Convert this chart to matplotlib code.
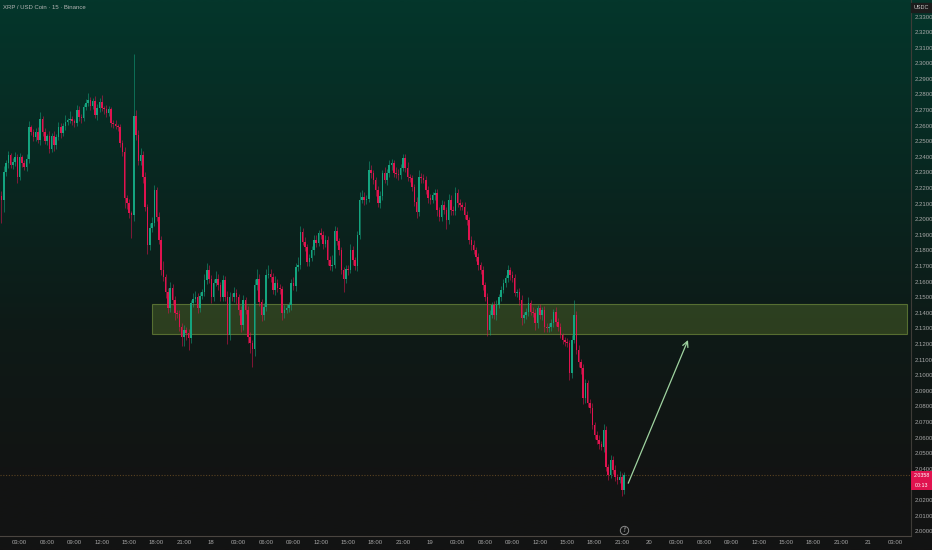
import numpy as np
import matplotlib
matplotlib.use("Agg")
import matplotlib.pyplot as plt
from matplotlib.patches import Rectangle
from matplotlib.colors import LinearSegmentedColormap

plt.rcParams['font.family'] = ['Liberation Sans Narrow', 'Liberation Sans', 'DejaVu Sans']

# ---------------- data (15-min candles, prices x 1e4) ----------------
title = "XRP / USD Coin · 15 · Binance"
first_open = 22150
closes = [
    22124, 22300, 22360, 22410, 22350, 22370, 22400, 22273, 22400, 22360,
    22337, 22384, 22590, 22562, 22530, 22562, 22508, 22641, 22562, 22504,
    22534, 22449, 22534, 22476, 22526, 22594, 22551, 22598, 22626, 22637,
    22643, 22630, 22620, 22701, 22658, 22650, 22723, 22744, 22765, 22729,
    22760, 22669, 22712, 22755, 22712, 22705, 22679, 22705, 22619, 22610,
    22598, 22590, 22491, 22433, 22135, 22103, 22038, 22028, 22662, 22541,
    22376, 22412, 22273, 22081, 21835, 21942, 21975, 22188, 22017, 21867,
    21675, 21632, 21536, 21429, 21557, 21483, 21397, 21390, 21312, 21248,
    21290, 21270, 21240, 21461, 21490, 21500, 21429, 21510, 21536, 21611,
    21675, 21620, 21504, 21590, 21620, 21579, 21504, 21611, 21500, 21258,
    21504, 21500, 21525, 21500, 21418, 21322, 21483, 21420, 21248, 21205,
    21166, 21579, 21620, 21470, 21386, 21440, 21643, 21650, 21630, 21547,
    21590, 21560, 21550, 21397, 21420, 21430, 21450, 21590, 21570, 21696,
    21710, 21921, 21857, 21820, 21728, 21750, 21803, 21867, 21850, 21914,
    21900, 21840, 21870, 21739, 21700, 21710, 21927, 21860, 21800, 21675,
    21615, 21680, 21675, 21800, 21740, 21700, 21899, 22123, 22145, 22123,
    22130, 22316, 22294, 22252, 22188, 22102, 22150, 22294, 22252, 22294,
    22348, 22358, 22294, 22290, 22284, 22330, 22391, 22330, 22273, 22262,
    22209, 22113, 22049, 22273, 22262, 22255, 22188, 22134, 22123, 22155,
    22166, 22059, 22017, 22091, 22059, 21995, 22124, 22059, 22050, 22166,
    22102, 22091, 22080, 22027, 21995, 21867, 21835, 21800, 21760, 21707,
    21675, 21579, 21504, 21290, 21386, 21450, 21386, 21450, 21504, 21547,
    21589, 21621, 21675, 21643, 21621, 21525, 21536, 21483, 21365, 21386,
    21408, 21461, 21408, 21397, 21333, 21429, 21386, 21418, 21312, 21300,
    21312, 21333, 21408, 21343, 21312, 21258, 21226, 21215, 21205, 21012,
    21226, 21386, 21162, 21085, 21045, 20852, 20948, 20820, 20790, 20681,
    20620, 20585, 20560, 20540, 20649, 20414, 20361, 20457, 20393, 20350,
    20329, 20350, 20265, 20358,
]
upper_wick = [
    30, 40, 20, 25, 15, 20, 30, 20, 25, 15,
    20, 35, 40, 15, 20, 25, 30, 45, 20, 25,
    15, 30, 20, 35, 20, 30, 25, 20, 40, 15,
    50, 20, 15, 30, 25, 20, 15, 30, 45, 20,
    15, 30, 25, 20, 40, 15, 25, 20, 15, 20,
    25, 15, 20, 15, 30, 20, 25, 15, 398, 40,
    30, 45, 25, 30, 20, 35, 40, 32, 20, 30,
    25, 60, 20, 25, 40, 30, 25, 20, 30, 25,
    30, 20, 25, 20, 35, 40, 30, 25, 20, 40,
    45, 30, 20, 25, 50, 30, 20, 35, 25, 40,
    30, 25, 40, 30, 20, 25, 30, 20, 25, 30,
    20, 40, 60, 30, 20, 25, 40, 60, 30, 25,
    45, 30, 25, 20, 30, 25, 20, 30, 40, 25,
    50, 35, 25, 30, 20, 30, 25, 30, 35, 20,
    30, 25, 30, 20, 25, 60, 30, 25, 20, 25,
    20, 30, 25, 40, 30, 20, 25, 50, 40, 30,
    25, 60, 30, 25, 20, 25, 30, 25, 40, 30,
    35, 30, 25, 40, 30, 25, 25, 30, 40, 20,
    25, 20, 30, 40, 25, 30, 20, 25, 30, 20,
    30, 25, 20, 30, 25, 20, 35, 30, 25, 40,
    30, 25, 20, 30, 25, 20, 25, 30, 20, 25,
    20, 25, 20, 25, 30, 20, 25, 30, 20, 25,
    30, 25, 35, 20, 25, 30, 20, 25, 30, 20,
    25, 40, 20, 30, 25, 20, 30, 20, 25, 20,
    25, 30, 20, 30, 25, 20, 15, 20, 25, 20,
    30, 95, 25, 30, 20, 25, 30, 20, 25, 30,
    20, 25, 30, 20, 40, 25, 20, 30, 25, 30,
    20, 35, 25, 20,
]
lower_wick = [
    150, 80, 20, 30, 20, 25, 30, 40, 20, 25,
    20, 30, 25, 20, 30, 25, 20, 30, 25, 20,
    30, 25, 20, 40, 25, 20, 30, 20, 25, 20,
    20, 25, 30, 20, 25, 30, 20, 25, 20, 30,
    25, 20, 30, 25, 20, 30, 25, 20, 30, 25,
    20, 25, 30, 25, 60, 40, 30, 150, 40, 30,
    25, 30, 40, 25, 60, 30, 25, 20, 30, 25,
    30, 25, 40, 30, 25, 30, 40, 25, 30, 60,
    60, 45, 80, 30, 25, 20, 30, 25, 20, 30,
    25, 30, 40, 25, 20, 30, 25, 30, 25, 60,
    30, 25, 30, 40, 30, 45, 30, 25, 40, 60,
    110, 40, 30, 25, 40, 30, 25, 20, 30, 25,
    30, 25, 30, 40, 30, 20, 25, 30, 25, 30,
    25, 30, 20, 25, 30, 25, 20, 30, 25, 20,
    25, 30, 20, 30, 25, 30, 20, 25, 30, 25,
    80, 25, 30, 20, 30, 25, 30, 25, 20, 30,
    25, 20, 30, 25, 40, 25, 30, 25, 20, 30,
    25, 30, 20, 25, 30, 25, 20, 25, 30, 20,
    25, 30, 40, 25, 30, 20, 25, 30, 25, 20,
    30, 40, 25, 30, 25, 60, 25, 30, 25, 20,
    25, 30, 20, 25, 30, 25, 30, 20, 25, 30,
    25, 30, 25, 40, 30, 20, 25, 30, 20, 25,
    20, 25, 20, 30, 25, 20, 25, 30, 45, 30,
    25, 30, 20, 25, 40, 30, 25, 30, 35, 25,
    20, 30, 25, 30, 25, 20, 25, 30, 25, 40,
    30, 20, 25, 30, 40, 35, 30, 25, 30, 25,
    30, 25, 30, 20, 30, 25, 30, 20, 25, 30,
    25, 20, 40, 25,
]
start_hour = 1.0          # first candle: day 17, 01:00
candle_hours = 0.25       # 15 minutes

x_tick_hours = [3, 6, 9, 12, 15, 18, 21, 24, 27, 30, 33, 36, 39, 42, 45, 48,
                51, 54, 57, 60, 63, 66, 69, 72, 75, 78, 81, 84, 87, 90, 93, 96, 99]
x_tick_labels = ['03:00', '06:00', '09:00', '12:00', '15:00', '18:00', '21:00', '18',
                 '03:00', '06:00', '09:00', '12:00', '15:00', '18:00', '21:00', '19',
                 '03:00', '06:00', '09:00', '12:00', '15:00', '18:00', '21:00', '20',
                 '03:00', '06:00', '09:00', '12:00', '15:00', '18:00', '21:00', '21',
                 '03:00']
# 2.0300 is hidden behind the last-price tag in the reference
y_tick_labels = ['2.0000', '2.0100', '2.0200', '2.0400', '2.0500', '2.0600',
                 '2.0700', '2.0800', '2.0900', '2.1000', '2.1100', '2.1200', '2.1300',
                 '2.1400', '2.1500', '2.1600', '2.1700', '2.1800', '2.1900', '2.2000',
                 '2.2100', '2.2200', '2.2300', '2.2400', '2.2500', '2.2600', '2.2700',
                 '2.2800', '2.2900', '2.3000', '2.3100', '2.3200', '2.3300']

zone_start_hour, zone_end_hour = 17.5, 100.24
zone_low, zone_high = 2.1265, 2.1457
arrow_from = (69.69, 2.0308)
arrow_to = (76.24, 2.1226)
countdown = "00:13"

# ---------------- derived ----------------
c = np.array(closes) / 1e4
o = np.array([first_open] + closes[:-1]) / 1e4
hi = np.maximum(o, c) + np.array(upper_wick) / 1e4
lo = np.minimum(o, c) - np.array(lower_wick) / 1e4
n = len(c)
x = start_hour + candle_hours * np.arange(n)

UP, DOWN = '#14a47f', '#e0134f'
cols = [UP if cc >= oo else DOWN for oo, cc in zip(o, c)]

W, H = 932, 550
fig = plt.figure(figsize=(W / 100, H / 100), dpi=100)

# background gradient
stops = [(0.0, (4/255, 54/255, 43/255)), (0.3, (8/255, 40/255, 33/255)),
         (0.6, (14/255, 26/255, 23/255)), (0.85, (18/255, 20/255, 19/255)),
         (1.0, (19/255, 19/255, 19/255))]
cmap = LinearSegmentedColormap.from_list('bg', stops)
bg = fig.add_axes([0, 0, 1, 1], zorder=0)
bg.imshow(np.linspace(0, 1, 512).reshape(-1, 1), aspect='auto', cmap=cmap,
          extent=[0, 1, 0, 1], interpolation='bilinear')
bg.axis('off')

ax = fig.add_axes([0, 14 / H, 911 / W, 536 / H], zorder=1)
ax.patch.set_alpha(0)
ax.set_xlim(0.84, 100.68)
ax.set_ylim(1.99696, 2.34058)

# zone
ax.add_patch(Rectangle((zone_start_hour, zone_low), zone_end_hour - zone_start_hour,
                       zone_high - zone_low, facecolor=(0.55, 0.68, 0.22, 0.25),
                       edgecolor=(0.62, 0.75, 0.30, 0.45), lw=0.8, zorder=1))

# candles
ax.vlines(x, lo, hi, colors=cols, lw=0.7, alpha=0.55, zorder=2)
ax.bar(x, np.maximum(np.abs(c - o), 0.0004), bottom=np.minimum(o, c), width=0.17,
       color=cols, linewidth=0, zorder=3)

# price line
last = c[-1]
ax.axhline(last, color='#5a4322', lw=0.8, ls=(0, (1, 1.5)), zorder=1.5)

# arrow
ax.annotate('', xy=arrow_to, xytext=arrow_from,
            arrowprops=dict(arrowstyle='->', color='#9fd3a0', lw=0.9,
                            mutation_scale=10, shrinkA=0, shrinkB=0), zorder=4)

# f marker
tr = ax.get_xaxis_transform()
ax.plot([x[-1]], [0.0112], marker='o', ms=6, mfc='none', mec='#8a8a8a', mew=0.7,
        transform=tr, clip_on=False, zorder=5)
ax.text(x[-1], 0.0112, 'ƒ', transform=tr, ha='center', va='center', fontsize=4,
        color='#a0a0a0', family=['DejaVu Sans'])

# spines / ticks
for s in ['top', 'left']:
    ax.spines[s].set_visible(False)
ax.spines['right'].set_color('#3e3b37')
ax.spines['bottom'].set_color('#4a4540')
ax.spines['right'].set_linewidth(0.8)
ax.spines['bottom'].set_linewidth(0.8)
ax.set_xticks(x_tick_hours)
ax.set_xticklabels(x_tick_labels)
ax.tick_params(axis='x', length=0, pad=3.2, labelsize=4.3, colors='#a8a8a8')
ax.yaxis.tick_right()
ax.set_yticks([float(t) for t in y_tick_labels])
ax.set_yticklabels(y_tick_labels)
ax.tick_params(axis='y', length=0, pad=3, labelsize=4.3, colors='#a8a8a8')

# title
fig.text(3 / W, 1 - 7.3 / H, title, fontsize=4.3, color='#b5b5b5', va='center', ha='left')

# USDC box
fig.text(921 / W, 1 - 7.5 / H, 'USDC', fontsize=4, color='#c8c8c8', va='center', ha='center',
         bbox=dict(boxstyle='square,pad=0.35', fc='#1c1c1c', ec='#1c1c1c'), zorder=10)

# last price box
yt = ax.get_yaxis_transform()
ax.add_patch(Rectangle((1.0, last - 0.0092), 21 / 911, 0.0118, transform=yt,
                       facecolor='#e0134f', edgecolor='none', clip_on=False, zorder=10))
ax.text(1.0 + 10.5 / 911, last - 0.0002, f"{last:.4f}", transform=yt, ha='center',
        va='center', fontsize=3.8, color='white', zorder=11)
ax.text(1.0 + 10.5 / 911, last - 0.0063, countdown, transform=yt, ha='center',
        va='center', fontsize=3.8, color='white', zorder=11)

fig.savefig('out.png', dpi=100)
